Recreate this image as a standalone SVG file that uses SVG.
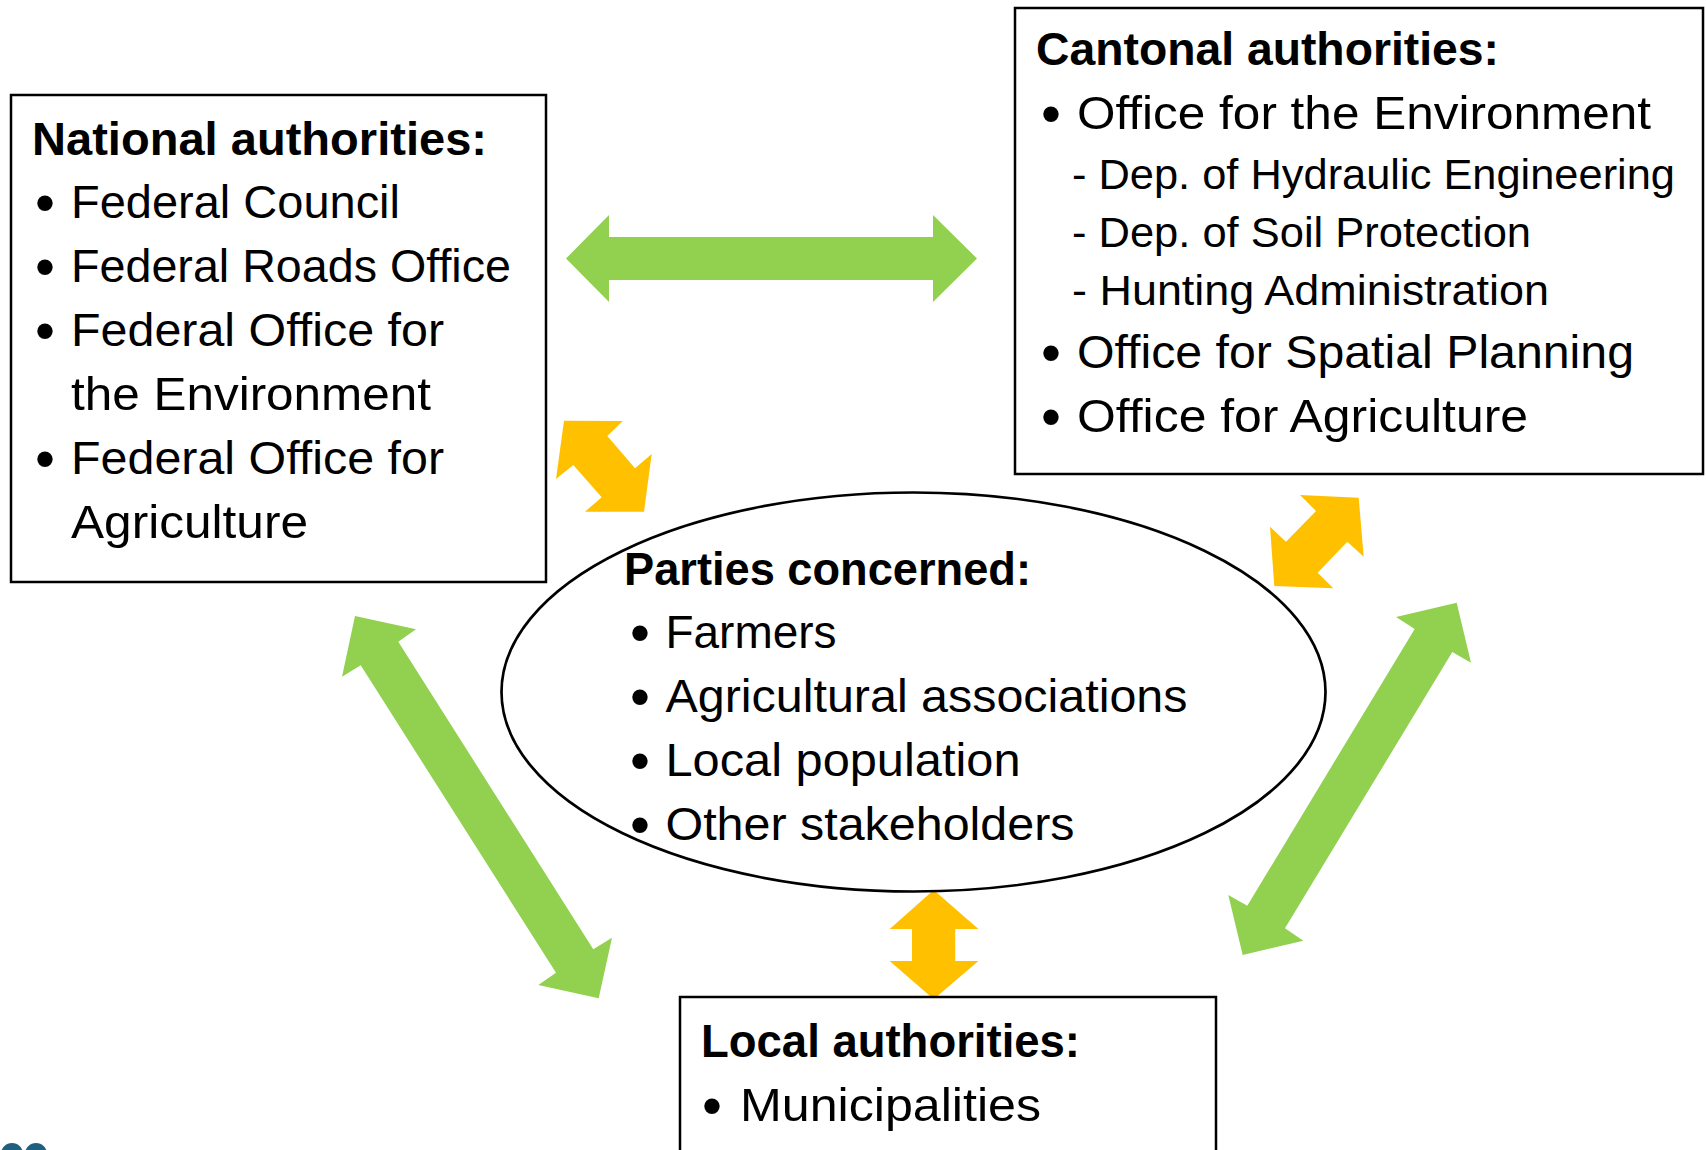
<svg xmlns="http://www.w3.org/2000/svg" width="1706" height="1150" viewBox="0 0 1706 1150">
<style>
.box{fill:#fff;stroke:#000;stroke-width:2.5}
.t{font-family:"Liberation Sans",Arial,sans-serif;font-size:47px;fill:#000}
.b{font-weight:bold}
.s{font-size:43px}
.bul{font-family:"Liberation Sans",Arial,sans-serif;font-size:57px;fill:#000}
.g{fill:#92D050}
.y{fill:#FFC000}
</style>
<rect width="1706" height="1150" fill="#fff"/>
<g id="connectors">
<polygon class="g" points="566,258.5 609,215 609,237 933,237 933,215 977,258.5 933,302 933,280 609,280 609,302"/>
<polygon class="g" points="355,616 416,629.3 398.3,641.7 593.3,949.3 612,937.7 598.7,998.3 538.3,985 556,972.7 360.7,665.3 342,676.7"/>
<polygon class="g" points="1456.7,602.7 1471,662.7 1452.3,652 1285,928.3 1303.3,940.7 1242.7,955 1228.3,895 1247.3,905.7 1414.7,629 1396,617"/>
<polygon class="y" points="564,420.7 622.7,421 607.3,436 635,468.3 651.7,454 644,511.7 585,511.7 601.7,497.3 573.3,465 556,479"/>
<polygon class="y" points="1358.7,497.7 1363.7,556.7 1347.3,541.7 1317.7,572.7 1333.3,588.3 1274.3,586 1270,526.7 1286,541.7 1316,511 1300,495"/>
<polygon class="y" points="933.7,890 978.4,929 955.2,929 955.2,961 978.4,961 933.7,999.3 889.7,961 912,961 912,929 889.7,929"/>
</g>
<g id="national">
<rect class="box" x="11" y="95" width="535" height="487"/>
<text class="t b" x="32" y="155" textLength="455" lengthAdjust="spacingAndGlyphs">National authorities:</text>
<text class="bul" x="35" y="222">•</text>
<text class="t" x="71" y="218" textLength="329" lengthAdjust="spacingAndGlyphs">Federal Council</text>
<text class="bul" x="35" y="286">•</text>
<text class="t" x="71" y="282" textLength="440" lengthAdjust="spacingAndGlyphs">Federal Roads Office</text>
<text class="bul" x="35" y="350">•</text>
<text class="t" x="71" y="346" textLength="373" lengthAdjust="spacingAndGlyphs">Federal Office for</text>
<text class="t" x="71" y="410" textLength="360" lengthAdjust="spacingAndGlyphs">the Environment</text>
<text class="bul" x="35" y="478">•</text>
<text class="t" x="71" y="474" textLength="373" lengthAdjust="spacingAndGlyphs">Federal Office for</text>
<text class="t" x="71" y="538" textLength="237" lengthAdjust="spacingAndGlyphs">Agriculture</text>
</g>
<g id="cantonal">
<rect class="box" x="1015" y="8" width="688" height="466"/>
<text class="t b" x="1036" y="65" textLength="463" lengthAdjust="spacingAndGlyphs">Cantonal authorities:</text>
<text class="bul" x="1041" y="133">•</text>
<text class="t" x="1077" y="129" textLength="574" lengthAdjust="spacingAndGlyphs">Office for the Environment</text>
<text class="t s" x="1072" y="189" textLength="603" lengthAdjust="spacingAndGlyphs">- Dep. of Hydraulic Engineering</text>
<text class="t s" x="1072" y="247" textLength="459" lengthAdjust="spacingAndGlyphs">- Dep. of Soil Protection</text>
<text class="t s" x="1072" y="305" textLength="477" lengthAdjust="spacingAndGlyphs">- Hunting Administration</text>
<text class="bul" x="1041" y="372">•</text>
<text class="t" x="1077" y="368" textLength="557" lengthAdjust="spacingAndGlyphs">Office for Spatial Planning</text>
<text class="bul" x="1041" y="436">•</text>
<text class="t" x="1077" y="432" textLength="451" lengthAdjust="spacingAndGlyphs">Office for Agriculture</text>
</g>
<g id="parties">
<ellipse cx="913.5" cy="692" rx="412" ry="199.5" fill="#fff" stroke="#000" stroke-width="2.7"/>
<text class="t b" x="624" y="585" textLength="407" lengthAdjust="spacingAndGlyphs">Parties concerned:</text>
<text class="bul" x="630" y="652">•</text>
<text class="t" x="665.5" y="648" textLength="171" lengthAdjust="spacingAndGlyphs">Farmers</text>
<text class="bul" x="630" y="716">•</text>
<text class="t" x="665.5" y="712" textLength="522" lengthAdjust="spacingAndGlyphs">Agricultural associations</text>
<text class="bul" x="630" y="780">•</text>
<text class="t" x="665.5" y="776" textLength="355" lengthAdjust="spacingAndGlyphs">Local population</text>
<text class="bul" x="630" y="844">•</text>
<text class="t" x="665.5" y="840" textLength="409" lengthAdjust="spacingAndGlyphs">Other stakeholders</text>
</g>
<g id="local">
<rect class="box" x="680" y="997" width="536" height="170"/>
<text class="t b" x="701" y="1057" textLength="379" lengthAdjust="spacingAndGlyphs">Local authorities:</text>
<text class="bul" x="702" y="1125">•</text>
<text class="t" x="740" y="1121" textLength="301" lengthAdjust="spacingAndGlyphs">Municipalities</text>
</g>
<g id="logo">
<circle cx="12" cy="1154" r="11" fill="#1F6080"/>
<circle cx="36" cy="1154" r="11" fill="#1F6080"/>
</g>
</svg>
